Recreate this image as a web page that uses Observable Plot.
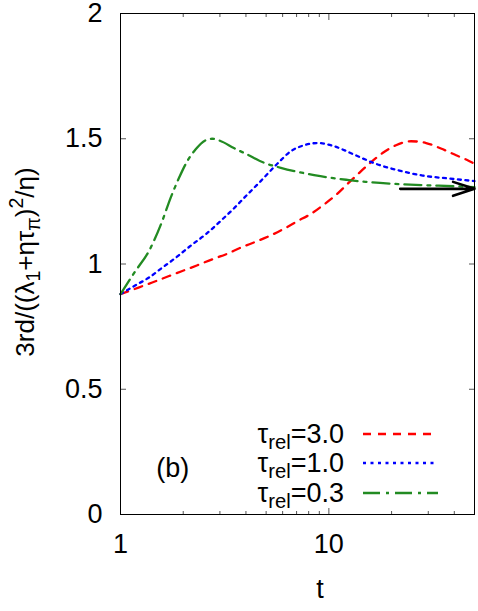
<!DOCTYPE html>
<html>
<head>
<meta charset="utf-8">
<script src="https://cdn.jsdelivr.net/npm/d3@7"></script>
<script src="https://cdn.jsdelivr.net/npm/@observablehq/plot@0.6"></script>
<style>
  html, body { margin: 0; padding: 0; background: #fff; }
  #chart svg { font-family: "Liberation Sans", Arial, sans-serif; }
</style>
</head>
<body>
<div id="chart"></div>
<script>
// ---- data ----
const tRed   = [1, 1.22, 1.42, 1.71, 1.98, 2.34, 2.76, 3.26, 3.77, 4.46, 5.26, 6.1, 7.07, 8.19, 9.49, 10.8, 12.3, 14.0, 15.6, 18.1, 21.0, 24.8, 29.3, 34.5, 40.8, 45.6, 50];
const yRed   = [0.88, 0.906, 0.926, 0.952, 0.972, 0.995, 1.019, 1.041, 1.065, 1.089, 1.114, 1.141, 1.171, 1.2, 1.238, 1.275, 1.32, 1.364, 1.4, 1.443, 1.474, 1.49, 1.483, 1.461, 1.434, 1.417, 1.4];
const tBlue  = [1, 1.18, 1.37, 1.585, 1.84, 2.21, 2.56, 3.08, 3.55, 3.92, 4.71, 5.67, 6.56, 7.61, 8.88, 10.6, 13.2, 16.8, 21.8, 28.2, 37.9, 50];
const yBlue  = [0.88, 0.915, 0.946, 0.985, 1.025, 1.078, 1.118, 1.178, 1.227, 1.264, 1.331, 1.401, 1.45, 1.474, 1.483, 1.47, 1.437, 1.4, 1.373, 1.353, 1.341, 1.331];
const tGreen = [1, 1.18, 1.37, 1.585, 1.74, 1.91, 2.09, 2.29, 2.56, 2.75, 3.0, 3.5, 4.06, 4.89, 5.88, 7.07, 8.5, 10.2, 12.5, 15, 19.5, 28.2, 40.8, 50];
const yGreen = [0.88, 0.972, 1.052, 1.171, 1.264, 1.344, 1.41, 1.457, 1.494, 1.50, 1.492, 1.463, 1.437, 1.404, 1.384, 1.368, 1.355, 1.344, 1.335, 1.328, 1.321, 1.315, 1.31, 1.307];

const seriesNames  = ["3.0", "1.0", "0.3"];
const seriesColors = ["#ff0000", "#0000ff", "#228b22"];
const seriesDash   = ["8,7", "3,4.5", "17,6,3,6"];

const arrowT = [22, 50];
const arrowY = 1.30;

const xMajor = [1, 10];
const xMinor = [2, 3, 4, 5, 6, 7, 8, 9, 20, 30, 40];
const yTicks = [0, 0.5, 1, 1.5, 2];

const panelLabel = [{t: 1.78, v: 0.183, s: "(b)"}];

// ---- build ----
const series = [
  {t: tRed, y: yRed},
  {t: tBlue, y: yBlue},
  {t: tGreen, y: yGreen}
].map((s, i) => s.t.map((t, j) => ({t, v: s.y[j], k: i})));

const W = 478, H = 611;
const mL = 120, mR = 4, mT = 13, mB = 97;
const FS = 27;
const SUB = 0.75;
const ff = "Liberation Sans, Arial, sans-serif";
const blank = () => "";

const lineMarks = series.map((d, i) => Plot.line(d, {
  x: "t", y: "v", stroke: seriesColors[i], strokeWidth: 2.3,
  strokeDasharray: seriesDash[i], curve: "monotone-x"
}));

const plot = Plot.plot({
  width: W, height: H,
  marginLeft: mL, marginRight: mR, marginTop: mT, marginBottom: mB,
  style: {fontFamily: ff, fontSize: FS + "px", color: "#000", background: "#fff"},
  x: {type: "log", domain: [1, 50]},
  y: {domain: [0, 2]},
  marks: [
    ...lineMarks,
    Plot.arrow([{x1: arrowT[0], x2: arrowT[1], y: arrowY}], {
      x1: "x1", x2: "x2", y1: "y", y2: "y", stroke: "#000", strokeWidth: 2.6,
      headLength: 13, headAngle: 36
    }),
    Plot.text(panelLabel, {x: "t", y: "v", text: "s", fontSize: FS, fill: "#000"}),
    // tick marks (inward, mirrored)
    Plot.axisX(xMajor, {anchor: "bottom", tickSize: -6, tickFormat: blank, stroke: "#555", label: null}),
    Plot.axisX(xMajor, {anchor: "top", tickSize: -6, tickFormat: blank, stroke: "#555", label: null}),
    Plot.axisX(xMinor, {anchor: "bottom", tickSize: -3, tickFormat: blank, stroke: "#555", label: null}),
    Plot.axisX(xMinor, {anchor: "top", tickSize: -3, tickFormat: blank, stroke: "#555", label: null}),
    Plot.axisY(yTicks, {anchor: "left", tickSize: -6, tickFormat: blank, stroke: "#555", label: null}),
    Plot.axisY(yTicks, {anchor: "right", tickSize: -6, tickFormat: blank, stroke: "#555", label: null}),
    // tick labels
    Plot.axisX(xMajor, {anchor: "bottom", tickSize: 0, tickPadding: 19, tickFormat: d => String(d), fontSize: FS, label: null}),
    Plot.axisY(yTicks, {anchor: "left", tickSize: 0, tickPadding: 18, tickFormat: d => String(d), fontSize: FS, label: null}),
    Plot.frame({stroke: "#000", strokeWidth: 1})
  ]
});

document.getElementById("chart").appendChild(plot);

// ---- rich text: axis titles and legend ----
const svg = d3.select(plot);

// x label
svg.append("text")
  .attr("x", 320).attr("y", 598)
  .attr("text-anchor", "middle")
  .attr("font-family", ff).attr("font-size", FS)
  .text("t");

// y label
const YFS = 26;
const yl = svg.append("text")
  .attr("transform", `translate(34,262) rotate(-90)`)
  .attr("text-anchor", "middle")
  .attr("font-family", ff).attr("font-size", YFS);
yl.append("tspan").text("3rd/((λ");
yl.append("tspan").attr("font-size", YFS * SUB).attr("dy", 6).text("1");
yl.append("tspan").attr("dy", -6).text("+ητ");
yl.append("tspan").attr("font-size", YFS * SUB).attr("dy", 6).text("π");
yl.append("tspan").attr("dy", -6).text(")");
yl.append("tspan").attr("font-size", YFS * SUB).attr("dy", -11).text("2");
yl.append("tspan").attr("dy", 11).text("/η)");

// legend
const legY = [434, 463, 493];
seriesNames.forEach((name, i) => {
  const t = svg.append("text")
    .attr("x", 344).attr("y", legY[i] + 8.5)
    .attr("text-anchor", "end")
    .attr("font-family", ff).attr("font-size", FS);
  t.append("tspan").text("τ");
  t.append("tspan").attr("font-size", FS * SUB).attr("dy", 6).text("rel");
  t.append("tspan").attr("dy", -6).text("=" + name);
  svg.append("line")
    .attr("x1", 363).attr("x2", 438)
    .attr("y1", legY[i]).attr("y2", legY[i])
    .attr("stroke", seriesColors[i]).attr("stroke-width", 2.3)
    .attr("stroke-dasharray", seriesDash[i]);
});
</script>
</body>
</html>
